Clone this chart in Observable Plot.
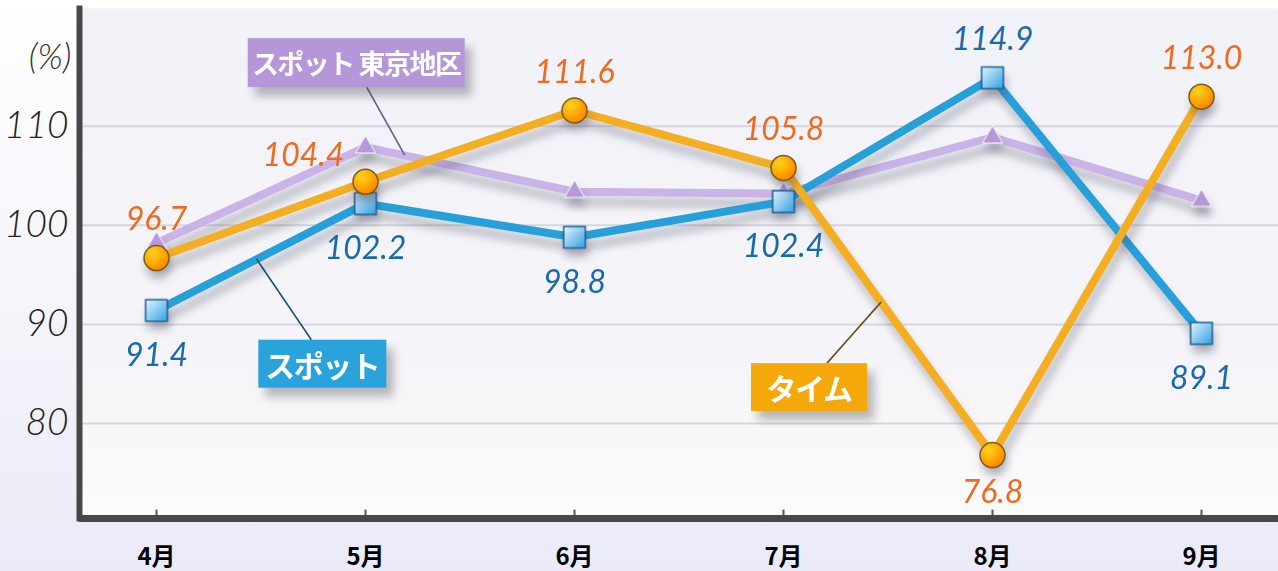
<!DOCTYPE html>
<html><head><meta charset="utf-8">
<script src="https://cdn.jsdelivr.net/npm/d3@7"></script>
<script src="https://cdn.jsdelivr.net/npm/@observablehq/plot@0.6"></script>
<style>
html,body{margin:0;padding:0;width:1278px;height:571px;overflow:hidden;background:linear-gradient(#ffffff 0%, #f4f4fb 55%, #ebebf8 100%)}
#chart svg{display:block;background:transparent}
g[aria-label="line"]{filter:drop-shadow(3px 10px 4px rgba(70,70,90,0.33))}
g[aria-label="dot"]{filter:drop-shadow(2px 8px 4px rgba(70,70,90,0.33))}
.box{filter:drop-shadow(7px 9px 5px rgba(60,60,70,0.35))}
</style></head><body><div id="chart"></div>
<script>
const months = ["4月","5月","6月","7月","8月","9月"];
const timeValues = [96.7, 104.4, 111.6, 105.8, 76.8, 113.0];
const spotValues = [91.4, 102.2, 98.8, 102.4, 114.9, 89.1];
const tokyoValues = [98.2, 107.9, 103.4, 103.2, 108.9, 102.5];
const yTicks = [80, 90, 100, 110];
const seriesNames = ["タイム", "スポット", "スポット 東京地区"];
const yUnit = "(%)";

const rows = months.map((m, i) => ({month: m, time: timeValues[i], spot: spotValues[i], tokyo: tokyoValues[i]}));

const cOrange = "#f4ae22", cBlue = "#27a0da", cLav = "#cab3e6";
const labOrange = "#ee6a1e", labBlue = "#1a6aaa";
const numFont = {fontFamily: "Lato, 'Open Sans', sans-serif", fontStyle: "italic", fontWeight: 400, fontSize: 32};

const defs = () => {
  const d = d3.create("svg:defs");
  const bg = d.append("linearGradient").attr("id", "bgGrad").attr("x1", 0).attr("y1", 0).attr("x2", 0).attr("y2", 1);
  bg.append("stop").attr("offset", "0%").attr("stop-color", "#f1f1f8");
  bg.append("stop").attr("offset", "70%").attr("stop-color", "#f5f5f9");
  bg.append("stop").attr("offset", "100%").attr("stop-color", "#fbfbfb");
  const og = d.append("radialGradient").attr("id", "orangeGrad").attr("cx", "35%").attr("cy", "30%").attr("r", "75%");
  og.append("stop").attr("offset", "0%").attr("stop-color", "#ffd41c");
  og.append("stop").attr("offset", "60%").attr("stop-color", "#ffa400");
  og.append("stop").attr("offset", "100%").attr("stop-color", "#ff8000");
  const bgr = d.append("linearGradient").attr("id", "blueGrad").attr("x1", 0).attr("y1", 0).attr("x2", 1).attr("y2", 1);
  bgr.append("stop").attr("offset", "0%").attr("stop-color", "#e4f5ff");
  bgr.append("stop").attr("offset", "100%").attr("stop-color", "#2f9fe2");
  return d.node();
};

const plot = Plot.plot({
  width: 1278,
  height: 571,
  marginLeft: 79,
  marginRight: 0,
  marginTop: 8,
  marginBottom: 53,
  style: {background: "transparent", overflow: "visible"},
  x: {type: "point", domain: months, padding: 0.368, label: null},
  y: {domain: [70.4, 121.9], label: null},
  marks: [
    defs,
    Plot.frame({fill: "url(#bgGrad)", stroke: "none"}),
    Plot.gridY(yTicks, {stroke: "#d6d6de", strokeOpacity: 1, strokeWidth: 2}),
    Plot.axisY({ticks: yTicks, tickSize: 0, tickPadding: 11, label: null, fontSize: 37, fontStyle: "italic", fontWeight: 300, fontFamily: "Lato, sans-serif", fill: "#222"}),
    Plot.text([yUnit], {frameAnchor: "top-left", dx: -8, dy: 36, textAnchor: "end", ...numFont, fontWeight: 300, fontSize: 35, fill: "#333"}),
    Plot.axisX({tickSize: 0, tickPadding: 29, label: null, fontSize: 24, fontWeight: "bold", fontFamily: "'Noto Sans CJK JP', sans-serif", fill: "#000"}),
    Plot.ruleX(months, {y1: 70.4, y2: 71.25, stroke: "#555", strokeWidth: 2}),
    Plot.ruleY([70.4], {stroke: "#474747", strokeWidth: 7}),
    Plot.frame({anchor: "left", stroke: "#474747", strokeWidth: 6}),
    // スポット 東京地区
    Plot.line(rows, {x: "month", y: "tokyo", stroke: cLav, strokeWidth: 8}),
    Plot.dot(rows, {x: "month", y: "tokyo", symbol: "triangle", r: 7.5, fill: "#b597da", stroke: "#fff", strokeWidth: 1}),
    // スポット
    Plot.line(rows, {x: "month", y: "spot", stroke: cBlue, strokeWidth: 8}),
    Plot.dot(rows, {x: "month", y: "spot", symbol: "square", r: 12.2, fill: "url(#blueGrad)", stroke: "#1d5f94", strokeWidth: 1.5}),
    // タイム
    Plot.line(rows, {x: "month", y: "time", stroke: cOrange, strokeWidth: 8}),
    Plot.dot(rows, {x: "month", y: "time", r: 12.5, fill: "url(#orangeGrad)", stroke: "#7a5c14", strokeWidth: 1.5}),
    // value labels
    Plot.text(rows, {filter: (d, i) => i !== 1 && i !== 4, x: "month", y: "time", text: d => d.time.toFixed(1), dy: -38, fill: labOrange, ...numFont}),
    Plot.text(rows, {filter: (d, i) => i === 1, x: "month", y: "time", text: d => d.time.toFixed(1), dx: -62, dy: -26, fill: labOrange, ...numFont}),
    Plot.text(rows, {filter: (d, i) => i === 4, x: "month", y: "time", text: d => d.time.toFixed(1), dy: 38, fill: labOrange, ...numFont}),
    Plot.text(rows, {filter: (d, i) => i !== 4, x: "month", y: "spot", text: d => d.spot.toFixed(1), dy: 45, fill: labBlue, ...numFont}),
    Plot.text(rows, {filter: (d, i) => i === 4, x: "month", y: "spot", text: d => d.spot.toFixed(1), dy: -38, fill: labBlue, ...numFont})
  ]
});
document.getElementById("chart").appendChild(plot);

// series name boxes with leader lines, placed via the plot's own scales
const xs = plot.scale("x"), ys = plot.scale("y");
const svg = d3.select(plot);
const step = xs.apply(months[1]) - xs.apply(months[0]);
const callouts = [
  {name: seriesNames[2], vals: tokyoValues, i: 1, t: 0.19, fill: "#b596d8", lineColor: "#6e5a86", box: [-157, -117, 217, 49], end: [-38, -68], fs: 27},
  {name: seriesNames[1], vals: spotValues, i: 0, t: 0.48, fill: "#2aa3dd", lineColor: "#1b4c72", box: [2, 81, 128, 48], end: [55, 81], fs: 30},
  {name: seriesNames[0], vals: timeValues, i: 3, t: 0.469, fill: "#f5a80a", lineColor: "#6a4c16", box: [-130, 61, 116, 48], end: [-54, 61], fs: 30}
];
for (const c of callouts) {
  const ax = xs.apply(months[c.i]) + c.t * step;
  const ay = ys.apply(c.vals[c.i] + c.t * (c.vals[c.i + 1] - c.vals[c.i]));
  svg.append("line").attr("x1", ax).attr("y1", ay).attr("x2", ax + c.end[0]).attr("y2", ay + c.end[1])
    .attr("stroke", c.lineColor).attr("stroke-width", 1.6);
  const g = svg.append("g").attr("class", "box");
  g.append("rect").attr("x", ax + c.box[0]).attr("y", ay + c.box[1]).attr("width", c.box[2]).attr("height", c.box[3]).attr("fill", c.fill);
  g.append("text").attr("x", ax + c.box[0] + c.box[2] / 2).attr("y", ay + c.box[1] + c.box[3] / 2)
    .attr("text-anchor", "middle").attr("dominant-baseline", "central")
    .attr("fill", "#fff").attr("font-family", "'Noto Sans CJK JP', sans-serif").attr("font-weight", "bold")
    .attr("font-size", c.fs).attr("letter-spacing", -1.5).text(c.name);
}
</script></body></html>
